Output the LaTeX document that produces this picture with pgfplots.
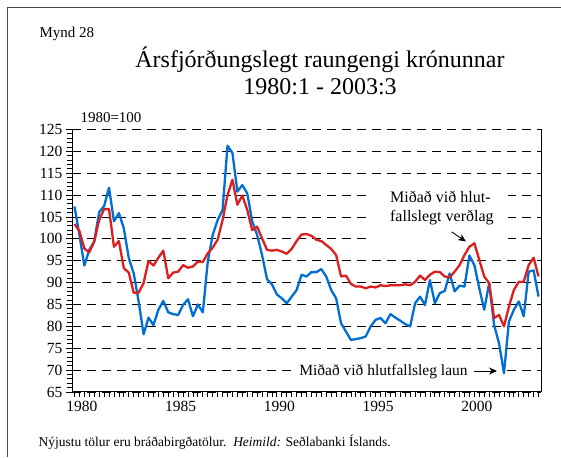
\documentclass[border=0pt]{standalone}
\usepackage{fontspec}
\setmainfont{Liberation Serif}
\usepackage{pgfplots}
\usepackage{pgfplotstable}
\pgfplotsset{compat=1.18}
\usetikzlibrary{arrows.meta}

\definecolor{rlaun}{RGB}{0,110,210}
\definecolor{rverd}{RGB}{220,30,30}

% quarter index (0 = 1980:1), relative wages, relative prices
\pgfplotstableread{
i laun verd
0 107.4 103.4
1 100.9 101.8
2 93.9 97.8
3 97.5 96.9
4 99.4 99.4
5 106.1 104.3
6 107.5 106.8
7 111.7 106.8
8 104.0 98.2
9 105.9 99.5
10 102.4 93.3
11 95.6 92.3
12 92.1 87.7
13 85.7 87.7
14 78.2 89.9
15 82.0 95.0
16 80.3 93.9
17 83.8 95.7
18 85.8 97.3
19 83.2 91.0
20 82.8 92.3
21 82.6 92.5
22 84.9 94.0
23 86.2 93.4
24 82.3 93.7
25 85.0 94.8
26 83.2 94.7
27 94.8 96.7
28 100.9 98.0
29 104.3 99.8
30 106.6 104.3
31 121.3 110.0
32 119.6 113.5
33 110.8 107.8
34 112.3 109.9
35 110.4 106.6
36 104.0 102.0
37 100.9 102.8
38 96.3 100.1
39 90.8 97.5
40 89.6 97.3
41 87.3 97.5
42 86.4 97.1
43 85.3 96.6
44 86.8 97.7
45 88.3 99.5
46 91.8 101.0
47 91.4 101.1
48 92.4 100.7
49 92.4 99.8
50 93.1 99.5
51 91.4 98.6
52 88.3 97.7
53 86.4 96.3
54 80.7 91.4
55 78.8 91.6
56 76.9 89.7
57 77.1 89.1
58 77.3 89.1
59 77.7 88.7
60 80.0 89.1
61 81.5 88.9
62 81.9 89.4
63 80.7 89.2
64 82.8 89.4
65 82.0 89.4
66 81.3 89.4
67 80.5 89.6
68 80.0 89.4
69 85.3 90.2
70 86.8 91.6
71 84.9 90.6
72 90.6 91.8
73 85.3 92.5
74 87.6 92.4
75 88.1 91.4
76 92.1 91.2
77 88.0 92.5
78 89.3 94.0
79 89.1 96.3
80 96.2 98.2
81 94.0 99.0
82 88.7 95.2
83 83.8 91.4
84 89.9 89.9
85 80.3 81.9
86 76.1 82.6
87 69.3 80.0
88 81.1 84.5
89 83.8 88.3
90 85.7 90.2
91 82.3 90.2
92 92.5 94.0
93 92.8 95.7
94 86.8 91.4
}\raungengi

\begin{document}
\begin{tikzpicture}
\useasboundingbox (0pt,0pt) rectangle (561pt,457pt);
\draw[line width=1pt, black!70] (7pt,0pt) -- (7pt,449pt) -- (561pt,449pt);

\node[anchor=base west] at (36pt,419pt) {\fontsize{15}{18}\selectfont Mynd 28};
\node[anchor=base] at (320pt,389pt) {\fontsize{24}{28}\selectfont Ársfjórðungslegt raungengi krónunnar};
\node[anchor=base] at (320pt,362pt) {\fontsize{24}{28}\selectfont 1980:1 - 2003:3};
\node[anchor=base west] at (77pt,334pt) {\fontsize{15}{18}\selectfont 1980=100};
\node[anchor=base west] at (35pt,11pt) {\fontsize{13.5}{16}\selectfont Nýjustu tölur eru bráðabirgðatölur.\ \ \textit{Heimild:} Seðlabanki Íslands.};

\begin{axis}[
  scale only axis,
  width=469pt, height=262.5pt,
  at={(72pt,65pt)}, anchor=south west,
  xmin=-0.5, xmax=94.5,
  ymin=65, ymax=125,
  axis x line*=bottom,
  axis y line*=box,
  axis line style={line width=1pt, black},
  ytick={65,70,...,125},
  minor y tick num=4,
  ytick pos=left,
  xtick={1.5,21.5,41.5,61.5,81.5},
  xticklabels={1980,1985,1990,1995,2000},
  minor xtick={0,...,94},
  major x tick style={draw=none},
  tick align=outside,
  major tick length=6pt,
  minor tick length=5pt,
  tick style={black, line width=0.8pt},
  ymajorgrids,
  y grid style={black, line width=0.9pt, dash pattern=on 9pt off 6pt},
  /pgf/number format/assume math mode=true,
  ticklabel style={font=\fontsize{15.5}{18}\selectfont},
  clip=false,
]
\fill[white] (axis cs:60.2,113.5) rectangle (axis cs:87.8,98.8);
\fill[white] (axis cs:45.0,72.0) rectangle (axis cs:87.0,67.3);

\addplot[rlaun, line width=2.3pt, line join=round] table[x=i, y=laun] {\raungengi};
\addplot[rverd, line width=2.3pt, line join=round] table[x=i, y=verd] {\raungengi};

\node[anchor=base west, inner sep=0pt] at (axis cs:63.9,108.4) {\fontsize{16}{19}\selectfont Miðað við hlut-};
\node[anchor=base west, inner sep=0pt] at (axis cs:63.9,103.9) {\fontsize{16}{19}\selectfont fallslegt verðlag};
\draw[line width=0.9pt, -{Stealth[length=8pt, width=7pt]}] (axis cs:76.4,101.6) -- (axis cs:79.3,99.4);

\node[anchor=base west, inner sep=0pt] at (axis cs:45.5,68.7) {\fontsize{15.5}{18}\selectfont Miðað við hlutfallsleg laun};
\draw[line width=0.9pt, -{Stealth[length=8pt, width=7pt]}] (axis cs:81.0,69.8) -- (axis cs:85.6,69.8);
\end{axis}
\end{tikzpicture}
\end{document}
